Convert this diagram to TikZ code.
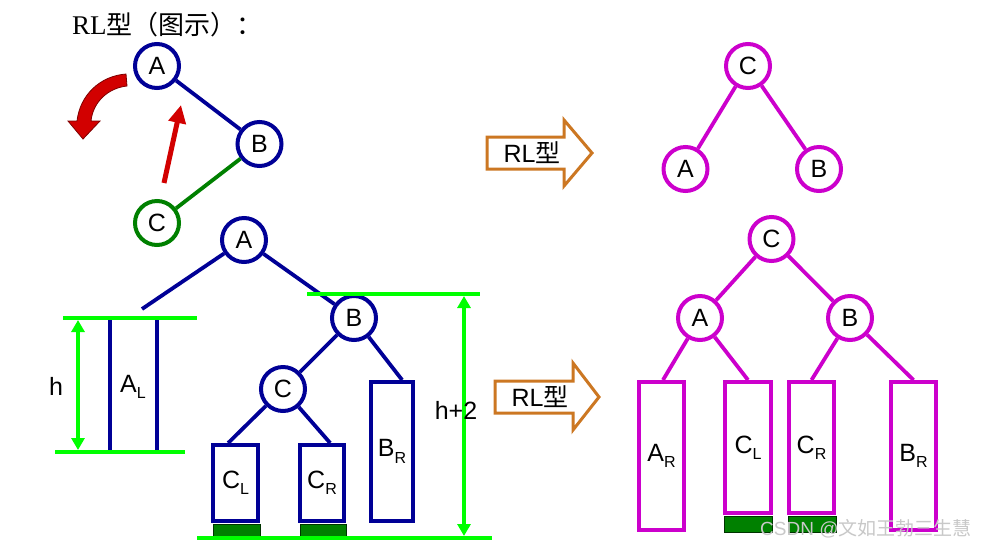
\documentclass[tikz,border=0pt]{standalone}
\usepackage{fontspec}
\setmainfont{Liberation Serif}
\newfontfamily\arial{Liberation Sans}
\newfontfamily\cjk{Noto Sans CJK SC}
\usetikzlibrary{arrows.meta}
\definecolor{navy}{RGB}{0,0,150}
\definecolor{mag}{RGB}{204,0,204}
\definecolor{dgreen}{RGB}{0,128,0}
\definecolor{lgreen}{RGB}{0,255,0}
\definecolor{org}{RGB}{204,119,34}
\definecolor{rred}{RGB}{210,0,0}
\definecolor{wm}{RGB}{200,200,200}
\begin{document}
\begin{tikzpicture}[x=1pt,y=-1pt,
  nd/.style={circle,draw,line width=4pt,minimum size=44pt,inner sep=0pt,fill=white,
    font=\arial\fontsize{25}{25}\selectfont},
  bnd/.style={nd,draw=navy},
  gnd/.style={nd,draw=dgreen},
  mnd/.style={nd,draw=mag},
  be/.style={draw=navy,line width=3.8pt},
  ge/.style={draw=dgreen,line width=3.8pt},
  me/.style={draw=mag,line width=3.8pt},
  tbox/.style={draw,line width=4pt,inner sep=0pt,font=\arial\fontsize{25}{25}\selectfont},
  bbox/.style={tbox,draw=navy},
  mbox/.style={tbox,draw=mag},
  gline/.style={draw=lgreen,line width=3.5pt},
  garrow/.style={draw=lgreen,line width=3.5pt,{Triangle[width=13pt,length=12pt]}-{Triangle[width=13pt,length=12pt]}},
  bar/.style={fill=dgreen,draw=black!60!dgreen,line width=0.8pt},
  oarrow/.style={draw=org,line width=3pt,fill=white,line join=miter},
  lbl/.style={font=\arial\fontsize{25}{25}\selectfont,inner sep=0pt}
]
\useasboundingbox[fill=white] (0,0) rectangle (987,550);

% title
\node[anchor=west,inner sep=0pt,font=\fontsize{27}{30}\selectfont] (title) at (72,25) {RL{\cjk\fontsize{26}{30}\selectfont 型（图示）：}};

% ---------- top-left small tree ----------
\node[bnd] (tA) at (157,66) {A};
\node[bnd] (tB) at (259.5,144) {B};
\node[gnd] (tC) at (157,223) {C};
\draw[be] (tA) -- (tB);
\draw[ge] (tB) -- (tC);

% red curved arrow
\filldraw[fill=rred,draw=black!40!rred,line width=0.8pt]
  (126,74) .. controls (100,76) and (80,95) .. (77,121) -- (68,121) -- (83,139) -- (100,121) -- (91,121)
  .. controls (93,102) and (108,88) .. (127,86) -- cycle;
% red straight arrow
\coordinate (rs) at (164,183);
\coordinate (re) at (181,105);
\draw[draw=rred,line width=5pt,-{Triangle[width=17pt,length=18pt]}] (rs) -- (re);

% ---------- bottom-left tree ----------
\coordinate (g1l) at (63,318);   \coordinate (g1r) at (197,318);
\coordinate (g2l) at (55,452);   \coordinate (g2r) at (185,452);
\coordinate (g3l) at (307,294);  \coordinate (g3r) at (480,294);
\coordinate (g4l) at (197,538);  \coordinate (g4r) at (492,538);

\node[bbox,minimum width=45pt,minimum height=76pt] (CL) at (235.5,483) {C\raisebox{-0.25em}{\fontsize{16}{16}\selectfont L}};
\node[bbox,minimum width=44pt,minimum height=76pt] (CR) at (322,483) {C\raisebox{-0.25em}{\fontsize{16}{16}\selectfont R}};
\node[bbox,minimum width=42pt,minimum height=139pt] (BR) at (392,451.5) {B\raisebox{-0.25em}{\fontsize{16}{16}\selectfont R}};
\path[bar] (213,524) rectangle (260,538);
\path[bar] (300,524) rectangle (346,538);

\node[bnd] (bA) at (244,240) {A};
\node[bnd] (bB) at (354,318) {B};
\node[bnd] (bC) at (283,389) {C};
\coordinate (aL) at (142,309);
\path (CL.north west) -- (CL.north east) coordinate[pos=0.35] (cl1);
\path (CR.north west) -- (CR.north east) coordinate[pos=0.67] (cr1);
\path (BR.north west) -- (BR.north east) coordinate[pos=0.72] (br1);
\draw[be] (bA) -- (aL);
\draw[be] (bA) -- (bB);
\draw[be] (bB) -- (bC);
\draw[be] (bB) -- (br1);
\draw[be] (bC) -- (cl1);
\draw[be] (bC) -- (cr1);

% A_L subtree
\coordinate (al1) at (110,318); \coordinate (al2) at (110,451);
\coordinate (al3) at (157,318); \coordinate (al4) at (157,451);
\draw[be] (al1) -- (al2);
\draw[be] (al3) -- (al4);
\node[lbl] (ALt) at (133,387) {A\raisebox{-0.25em}{\fontsize{16}{16}\selectfont L}};

% green guide lines
\draw[gline] (g1l) -- (g1r);
\draw[gline] (g2l) -- (g2r);
\draw[gline] (g3l) -- (g3r);
\draw[gline] (g4l) -- (g4r);
\coordinate (h1) at (78,320); \coordinate (h2) at (78,450);
\draw[garrow] (h1) -- (h2);
\node[lbl] (hlab) at (56,386) {h};
\coordinate (h3) at (464,296); \coordinate (h4) at (464,536);
\draw[garrow] (h3) -- (h4);
\node[lbl] (h2lab) at (456,410) {h+2};

% ---------- orange arrows ----------
\draw[oarrow] (487,137) -- (564,137) -- (564,120) -- (592,153) -- (564,186) -- (564,169) -- (487,169) -- cycle;
\node[lbl] (rl1) at (532,153) {RL{\cjk 型}};
\draw[oarrow] (495,381) -- (573,381) -- (573,363) -- (599,397) -- (573,430) -- (573,413) -- (495,413) -- cycle;
\node[lbl] (rl2) at (540,397) {RL{\cjk 型}};

% ---------- top-right tree ----------
\node[mnd] (rC) at (748,66) {C};
\node[mnd] (rA) at (685.5,169) {A};
\node[mnd] (rB) at (819,169) {B};
\draw[me] (rC) -- (rA);
\draw[me] (rC) -- (rB);

% ---------- bottom-right tree ----------
\node[mbox,minimum width=45pt,minimum height=148pt] (mAR) at (661.5,456) {A\raisebox{-0.25em}{\fontsize{16}{16}\selectfont R}};
\node[mbox,minimum width=46pt,minimum height=131pt] (mCL) at (748,447.5) {C\raisebox{-0.25em}{\fontsize{16}{16}\selectfont L}};
\node[mbox,minimum width=45pt,minimum height=131pt] (mCR) at (811.5,447.5) {C\raisebox{-0.25em}{\fontsize{16}{16}\selectfont R}};
\node[mbox,minimum width=45pt,minimum height=148pt] (mBR) at (913.5,456) {B\raisebox{-0.25em}{\fontsize{16}{16}\selectfont R}};
\path[bar] (724,516) rectangle (772,532);
\path[bar] (788,516) rectangle (836,532);

\node[mnd] (mC) at (771.5,239) {C};
\node[mnd] (mA) at (700,318) {A};
\node[mnd] (mB) at (850,318) {B};
\path (mAR.north west) -- (mAR.north east) coordinate[pos=0.53] (mar1);
\draw[me] (mC) -- (mA);
\draw[me] (mC) -- (mB);
\draw[me] (mA) -- (mar1);
\draw[me] (mA) -- (mCL.north);
\draw[me] (mB) -- (mCR.north);
\draw[me] (mB) -- (mBR.north);

% watermark
\node[anchor=west,inner sep=0pt,text=wm,font=\arial\fontsize{19}{19}\selectfont] (wmark) at (760,529) {CSDN @{\cjk 文如王勃三生慧}};
\end{tikzpicture}
\end{document}
